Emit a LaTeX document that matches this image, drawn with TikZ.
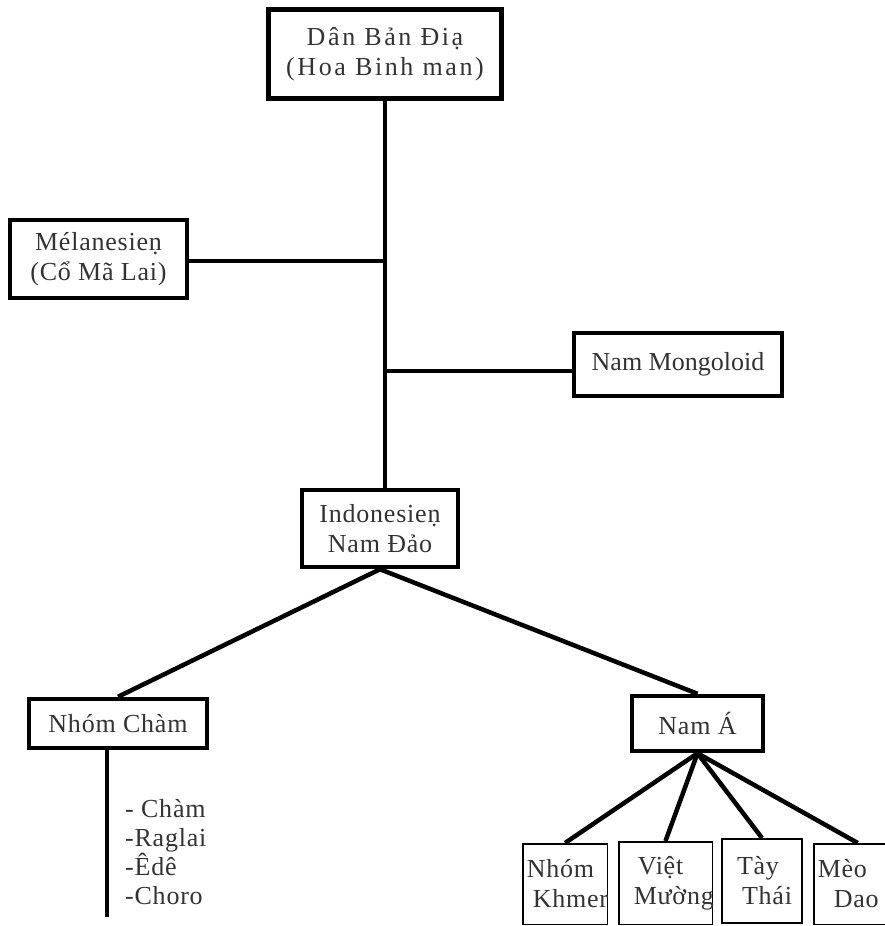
\documentclass[tikz,border=0pt]{standalone}
\usepackage{fontspec}
\setmainfont{Liberation Serif}[LetterSpace=3]
\newfontfamily\widefont{Liberation Serif}[LetterSpace=10]
\newfontfamily\plainfont{Liberation Serif}
\begin{document}
\begin{tikzpicture}[x=1pt,y=-1pt,
  box/.style={draw=black, line width=4.5pt, inner sep=0pt, align=center, text=black!80, font=\fontsize{26}{30}\selectfont},
  leaf/.style={draw=black, line width=1.5pt, inner sep=4pt, align=left, anchor=north west, text=black!80, font=\fontsize{26}{30}\selectfont},
  link/.style={line width=4.5pt}]
\useasboundingbox (0,0) rectangle (884,926);
% upper part
\node[box, minimum width=233pt, minimum height=89pt, font=\fontsize{26}{30}\widefont] (dan) at (385,54) {Dân Bản Điạ\\(Hoa Binh man)};
\node[box, minimum width=177pt, minimum height=78pt] (mela) at (98.5,259) {Mélanesieṇ\\(Cổ Mã Lai)};
\node[box, minimum width=208pt, minimum height=63pt, font=\fontsize{26}{30}\plainfont] (mongo) at (678,364.5) {Nam Mongoloid};
\node[box, minimum width=156pt, minimum height=77pt] (indo) at (380,528.5) {Indonesieṇ\\Nam Đảo};
\coordinate (jmela) at (386,261);
\coordinate (jmongo) at (386,371);
\draw[link] (dan.south) -- (dan.south |- indo.north);
\draw[link] (jmela -| mela.east) -- (jmela);
\draw[link] (jmongo) -- (jmongo -| mongo.west);
% lower part
\node[box, minimum width=178pt, minimum height=49pt] (cham) at (118,723.5) {Nhóm Chàm};
\node[box, minimum width=131pt, minimum height=55pt] (nama) at (697.5,723.5) {Nam Á};
\draw[link] (indo.south) -- (cham.north);
\draw[link] (indo.south) -- (nama.north);
\coordinate (chamend) at (107,917);
\draw[link] (chamend |- cham.south) -- (chamend);
\node[align=left, anchor=north west, inner sep=0pt, text=black!80, font=\fontsize{26}{29}\selectfont] (chamlist) at (125,799) {- Chàm\\-Raglai\\-Êdê\\-Choro};
% Nam A groups
\node[leaf, text width=76.5pt, minimum height=80.5pt] (khmer) at (522,843) {Nhóm\\\hspace*{6pt}Khmer};
\node[leaf, text width=85.5pt, minimum height=82.5pt] (viet) at (618,841) {\hspace*{15pt}Việt\\\hspace*{11pt}Mường};
\node[leaf, line width=2pt, text width=72pt, minimum height=84pt] (tay) at (721,838) {\hspace*{11pt}Tày\\\hspace*{16pt}Thái};
\node[leaf, text width=80pt, minimum height=80.5pt] (meo) at (813,843) {Mèo\\\hspace*{16pt}Dao};
\foreach \grp in {khmer,viet,tay,meo}
  \draw[link] (nama.south) -- (\grp.north);
\end{tikzpicture}
\end{document}
